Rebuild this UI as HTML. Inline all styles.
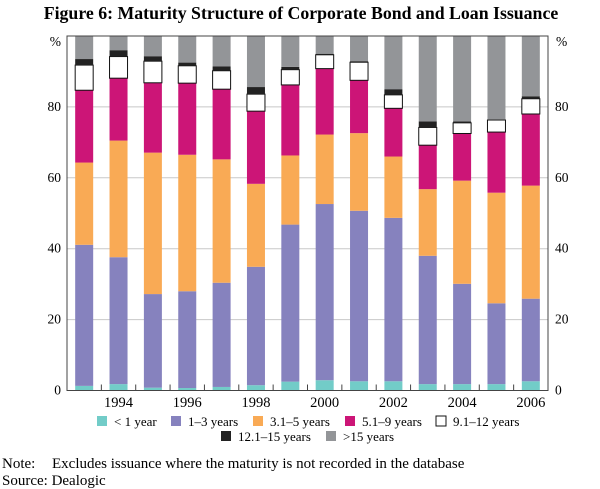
<!DOCTYPE html>
<html><head><meta charset="utf-8">
<style>
html,body{margin:0;padding:0;background:#fff;}
svg{display:block;font-family:"Liberation Serif",serif;}
</style></head>
<body>
<svg id="chart" width="600" height="489" viewBox="0 0 600 489">
<text x="301" y="19" text-anchor="middle" font-size="17.8" font-weight="bold">Figure 6: Maturity Structure of Corporate Bond and Loan Issuance</text>
<g id="grid"></g>
<g id="bars"></g>
<g id="axes"></g>
<g id="legend" font-size="13"></g>
<text x="2" y="468" font-size="15">Note:</text>
<text x="52" y="468" font-size="15">Excludes issuance where the maturity is not recorded in the database</text>
<text x="2" y="485" font-size="15">Source: Dealogic</text>
</svg>
<script>
const years = [1993,1994,1995,1996,1997,1998,1999,2000,2001,2002,2003,2004,2005,2006];
const lt1 =    [1.3,1.8,0.8,0.7,1.0,1.5,2.5,2.9,2.6,2.6,1.8,1.8,1.8,2.6];
const y1to3 =  [39.8,35.8,26.4,27.3,29.4,33.4,44.3,49.7,48.1,46.1,36.2,28.3,22.8,23.3];
const y3to5 =  [23.2,32.9,39.9,38.5,34.8,23.4,19.5,19.6,21.9,17.3,18.8,29.1,31.2,31.9];
const y5to9 =  [20.4,17.6,19.7,20.2,19.8,20.5,19.9,18.6,14.9,13.6,12.4,13.3,17.1,20.2];
const y9to12 = [7.1,6.1,6.1,4.9,5.2,4.8,4.3,3.9,5.1,3.8,5.0,3.0,3.4,4.3];
const y12to15 =[1.7,1.8,1.4,0.9,1.2,2.0,0.8,0.3,0.3,1.6,1.7,0.4,0.2,0.7];
const gt15 =   [6.5,4.0,5.7,7.5,8.6,14.4,8.7,5.0,7.1,15.0,24.1,24.1,23.5,17.0];
const yTicks = [0,20,40,60,80];
const xLabelYears = [1994,1996,1998,2000,2002,2004,2006];
const seriesNames = ["< 1 year","1–3 years","3.1–5 years","5.1–9 years","9.1–12 years","12.1–15 years",">15 years"];

const series = [lt1,y1to3,y3to5,y5to9,y9to12,y12to15,gt15];
const fills = ["#72ccc8","#8682be","#f9aa55","#cc1577","#ffffff","#222222","#939598"];
const NS="http://www.w3.org/2000/svg";
const L=67,R=548,T=36,B=390.5;
const yS=v=>B-(v/100)*(B-T);
const slot=(R-L)/years.length;
const xC=i=>L+slot*(i+0.5);
const BW=18;
function mk(tag,attrs,parent){const e=document.createElementNS(NS,tag);for(const k in attrs)e.setAttribute(k,attrs[k]);parent.appendChild(e);return e;}
const grid=document.getElementById('grid'),bars=document.getElementById('bars'),axes=document.getElementById('axes'),legend=document.getElementById('legend');

yTicks.forEach(t=>{
  if(t>0){const g=mk('line',{x1:L,x2:R,y1:yS(t),y2:yS(t),stroke:'#c8c8c8','stroke-width':1},grid);
  
  }
  const a=mk('text',{x:L-6,y:yS(t)+4,'text-anchor':'end','font-size':13.5},axes);a.textContent=t;
  
  
  const b=mk('text',{x:R+7,y:yS(t)+4,'text-anchor':'start','font-size':13.5},axes);b.textContent=t;
  
  
});
const pl=mk('text',{x:L-6,y:46,'text-anchor':'end','font-size':13.5},axes);pl.textContent='%';


const pr=mk('text',{x:R+8,y:46,'text-anchor':'start','font-size':13.5},axes);pr.textContent='%';



years.forEach((yr,i)=>{
  let cum=0;
  series.forEach((s,k)=>{
    const v=s[i];const y0=yS(cum),y1=yS(cum+v);cum+=v;
    const r=mk('rect',{x:xC(i)-BW/2,y:y1,width:BW,height:Math.max(0,y0-y1),fill:fills[k]},bars);
    if(k===4){r.setAttribute('stroke','#111');r.setAttribute('stroke-width','1');}
    
    
  });
});

const frame=mk('rect',{x:L,y:T,width:R-L,height:B-T,fill:'none',stroke:'#444','stroke-width':1},axes);


for(let i=1;i<years.length;i++){
  const t=mk('line',{x1:L+slot*i,x2:L+slot*i,y1:B,y2:B-6,stroke:'#444','stroke-width':1},axes);
  
  
}
xLabelYears.forEach(yr=>{
  const i=years.indexOf(yr);
  const t=mk('text',{x:xC(i),y:407,'text-anchor':'middle','font-size':14.5},axes);t.textContent=yr;
  
  
});

const legPos=[[97,426],[171,426],[253,426],[345,426],[436,426],[221,441],[326,441]];
seriesNames.forEach((n,k)=>{
  const [x,y]=legPos[k];
  const g=mk('g',{},legend);
  
  
  mk('rect',{x:x,y:y-10,width:10,height:10,fill:fills[k],stroke:k===4?'#111':'none','stroke-width':1},g);
  const t=mk('text',{x:x+17,y:y},g);t.textContent=n;
});
</script>
</body></html>
